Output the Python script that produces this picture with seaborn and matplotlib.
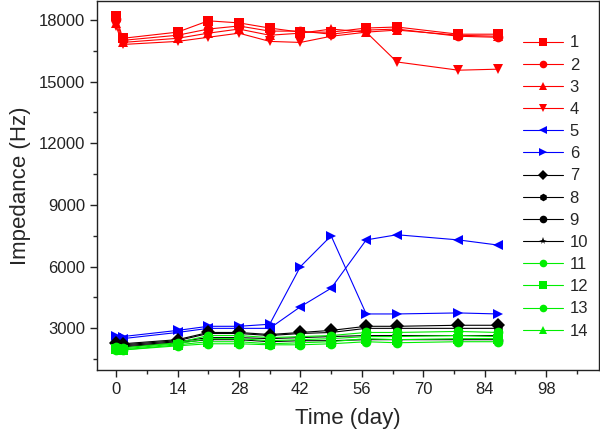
import matplotlib
matplotlib.use("Agg")
import matplotlib.pyplot as plt
import seaborn as sns
import pandas as pd
from matplotlib.ticker import MultipleLocator

days = [0, 1.5, 14, 21, 28, 35, 42, 49, 57, 64, 78, 87]

s1 = [18200, 17100, 17400, 17950, 17850, 17600, 17400, 17400, 17600, 17650, 17300, 17300]
s2 = [18050, 17000, 17250, 17550, 17700, 17450, 17450, 17300, 17500, 17550, 17200, 17150]
s3 = [17850, 16900, 17100, 17350, 17550, 17250, 17350, 17550, 17400, 17500, 17250, 17200]
s4 = [17700, 16800, 16950, 17150, 17350, 16950, 16900, 17200, 17400, 15950, 15550, 15600]
s5 = [2550, 2500, 2800, 3000, 3000, 3000, 4050, 4950, 7300, 7550, 7300, 7050]
s6 = [2650, 2600, 2900, 3100, 3100, 3200, 6000, 7500, 3700, 3700, 3750, 3700]
s7 = [2300, 2250, 2450, 2800, 2800, 2700, 2800, 2900, 3100, 3100, 3150, 3150]
s8 = [2250, 2200, 2400, 2750, 2750, 2650, 2750, 2800, 3000, 3000, 3000, 3000]
s9 = [2150, 2100, 2300, 2450, 2450, 2350, 2400, 2400, 2450, 2450, 2450, 2450]
s10 = [2200, 2150, 2350, 2550, 2550, 2500, 2550, 2600, 2650, 2650, 2650, 2650]
s11 = [2100, 2050, 2300, 2650, 2650, 2550, 2600, 2650, 2800, 2800, 2850, 2800]
s12 = [2000, 1950, 2200, 2350, 2350, 2250, 2300, 2350, 2500, 2450, 2500, 2500]
s13 = [1950, 1950, 2150, 2250, 2250, 2200, 2200, 2250, 2350, 2300, 2350, 2350]
s14 = [2050, 2000, 2250, 2500, 2500, 2400, 2450, 2500, 2600, 2600, 2650, 2600]

series_names = [str(i) for i in range(1, 15)]
series_values = [s1, s2, s3, s4, s5, s6, s7, s8, s9, s10, s11, s12, s13, s14]

colors = ["#ff0000"] * 4 + ["#0000ff"] * 2 + ["#000000"] * 4 + ["#00ee00"] * 4
markers = ["s", "o", "^", "v", "<", ">", "D", "h", "o", "*", "o", "s", "o", "^"]

rows = []
for name, vals in zip(series_names, series_values):
    for d, v in zip(days, vals):
        rows.append({"day": d, "value": v, "series": name})
df = pd.DataFrame(rows)

sns.set_style("ticks")
plt.rcParams["font.family"] = ["Liberation Sans", "DejaVu Sans"]

fig = plt.figure(figsize=(6, 4.38), dpi=100)
ax = fig.add_axes([0.162, 0.155, 0.836, 0.843])

palette = dict(zip(series_names, colors))
mdict = dict(zip(series_names, markers))
sns.lineplot(data=df, x="day", y="value", hue="series", style="series",
             hue_order=series_names, style_order=series_names,
             palette=palette, markers=mdict, dashes=False,
             linewidth=0.8, markersize=7, markeredgewidth=0,
             sort=True, ax=ax, legend=True)

ax.set_xlim(-4.3, 110)
ax.set_ylim(970, 18920)
ax.set_xticks([0, 14, 28, 42, 56, 70, 84, 98])
ax.set_yticks([3000, 6000, 9000, 12000, 15000, 18000])
ax.xaxis.set_minor_locator(MultipleLocator(7))
ax.yaxis.set_minor_locator(MultipleLocator(1500))
ax.tick_params(axis="both", which="major", direction="out", length=5, width=1,
               labelsize=12, colors="#222222", top=False, right=False)
ax.tick_params(axis="both", which="minor", direction="out", length=3, width=1,
               top=False, right=False)
for sp in ax.spines.values():
    sp.set_visible(True)
    sp.set_linewidth(1)
    sp.set_color("#222222")

ax.set_xlabel("Time (day)", fontsize=16, labelpad=8)
ax.set_ylabel("Impedance (Hz)", fontsize=16, labelpad=6)

handles, labels = ax.get_legend_handles_labels()
for h in handles:
    h.set_markersize(5.5)
ax.legend(handles, labels, loc="upper left", bbox_to_anchor=(0.819, 0.947),
          frameon=False, fontsize=12, handlelength=2.4, handletextpad=0.4,
          labelspacing=0.43, borderpad=0.4)

fig.savefig("out.png", dpi=100)
